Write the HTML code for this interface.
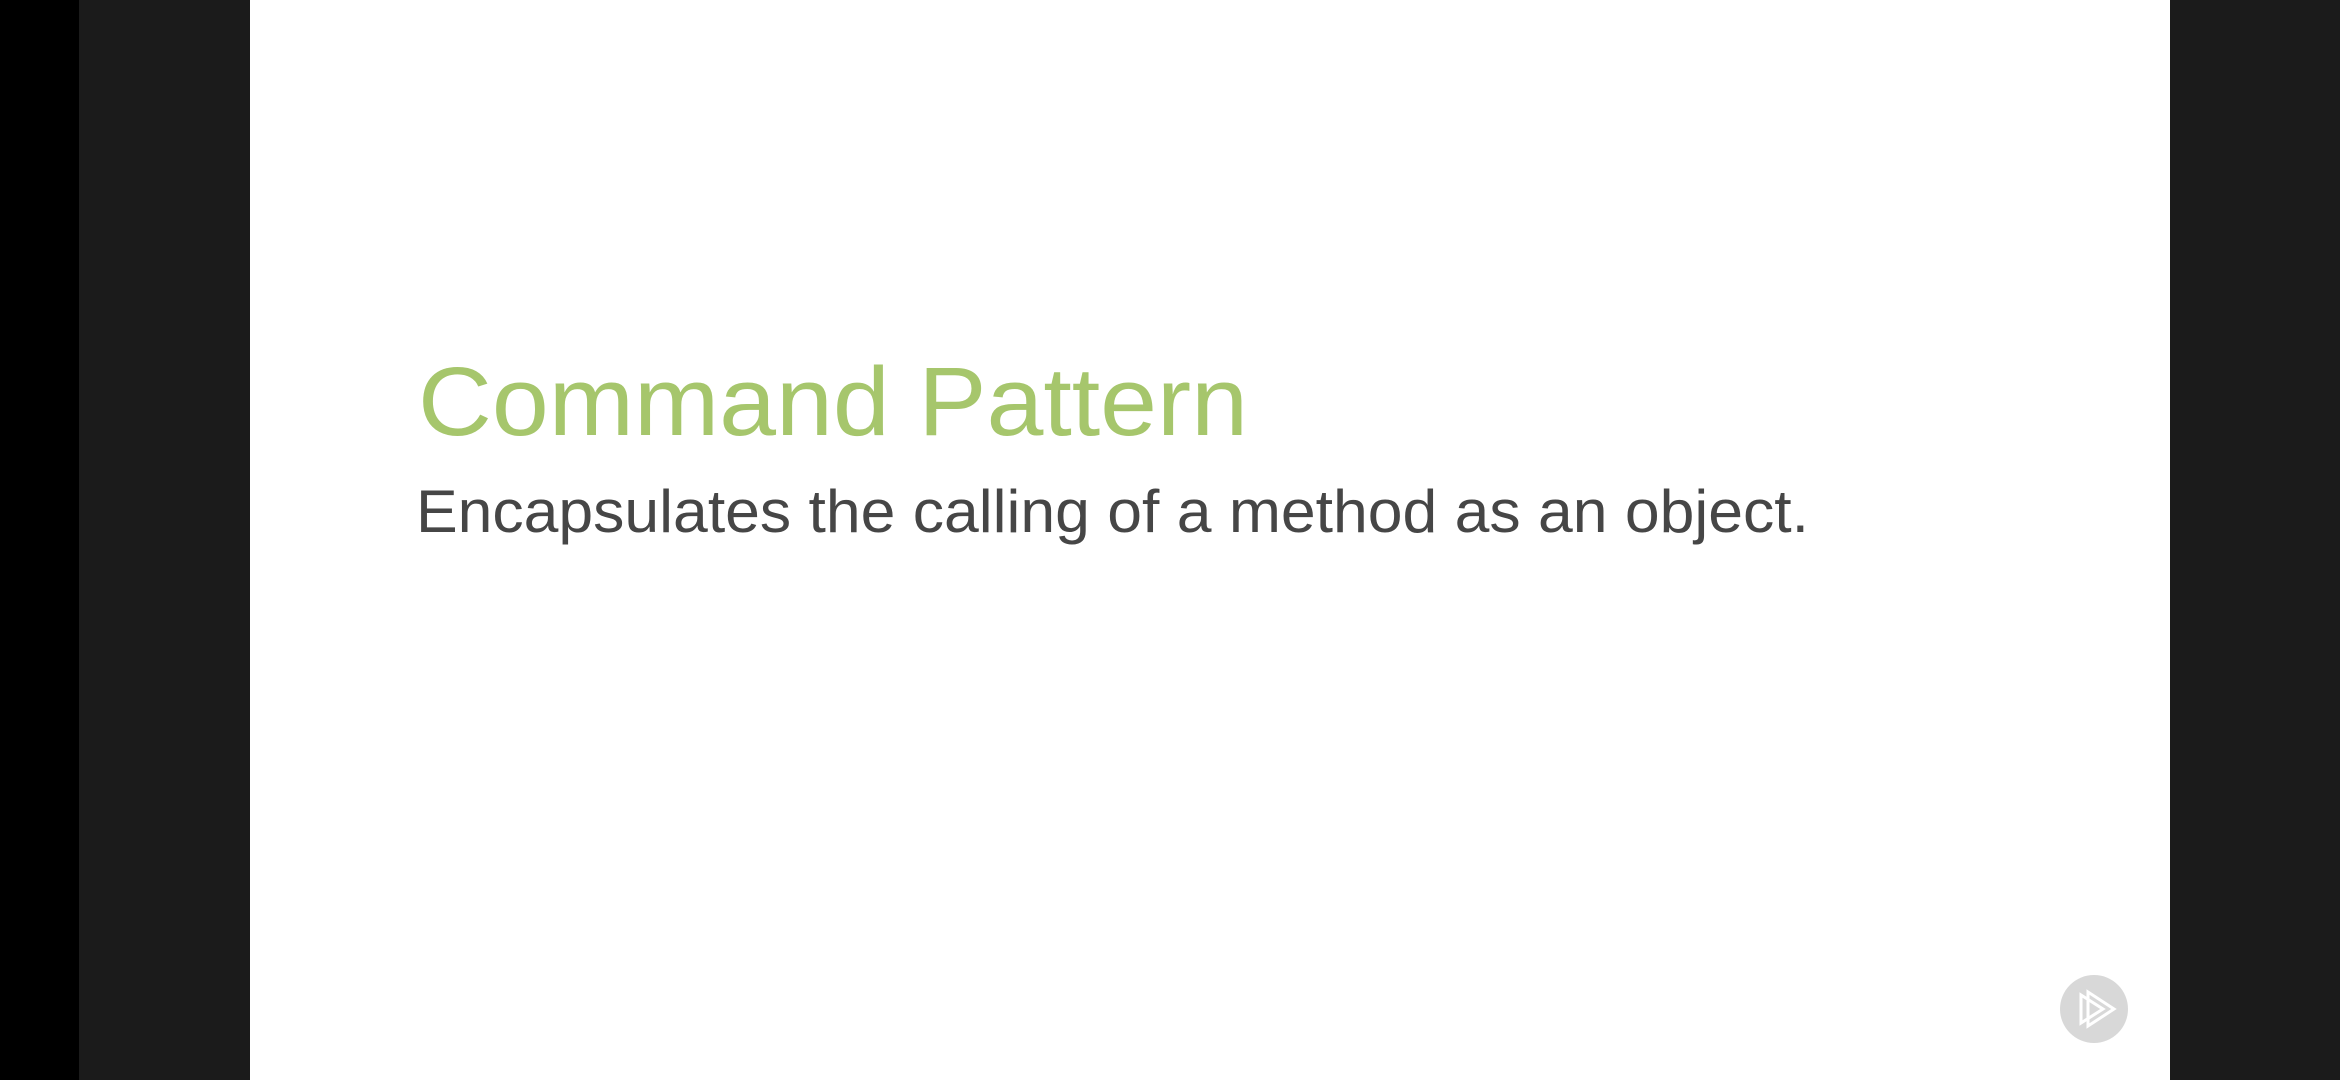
<!DOCTYPE html>
<html><head><meta charset="utf-8"><style>
html,body{margin:0;padding:0;width:2340px;height:1080px;overflow:hidden;background:#1b1b1b}
</style></head><body>
<svg width="2340" height="1080" xmlns="http://www.w3.org/2000/svg" style="display:block">
<rect x="0" y="0" width="2340" height="1080" fill="#1b1b1b"/>
<rect x="0" y="0" width="79" height="1080" fill="#000"/>
<rect x="250" y="0" width="1920" height="1080" fill="#fff"/>
<text x="418" y="435" font-family="Liberation Sans, sans-serif" font-size="97" fill="#a6c66c" textLength="830" lengthAdjust="spacingAndGlyphs">Command Pattern</text>
<text x="416" y="532" font-family="Liberation Sans, sans-serif" font-size="60" fill="#464646" textLength="1393" lengthAdjust="spacingAndGlyphs">Encapsulates the calling of a method as an object.</text>
<circle cx="2094" cy="1009" r="34" fill="#d8d8d8"/>
<g fill="none" stroke="#fff" stroke-width="3" stroke-linejoin="miter">
<polygon points="2081,995 2081,1023 2103,1009"/>
<polygon points="2088,992 2088,1026 2114,1009"/>
</g>
</svg>
</body></html>
